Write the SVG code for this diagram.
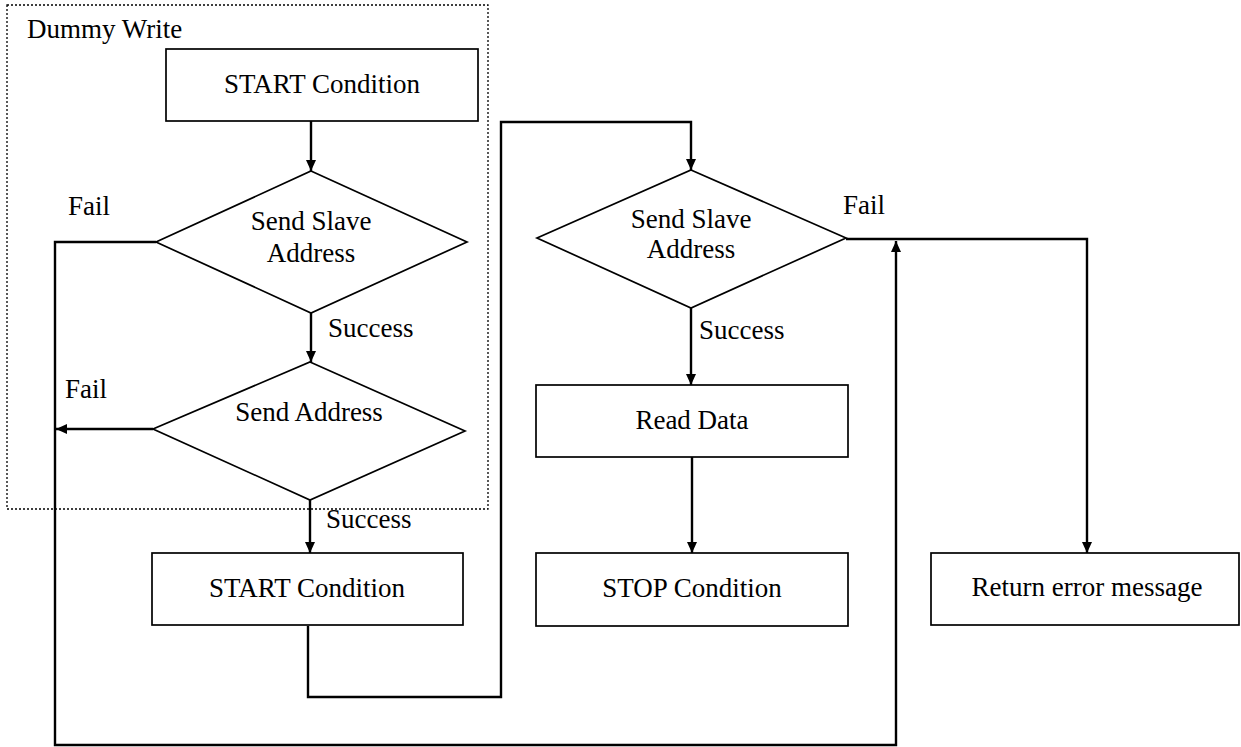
<svg xmlns="http://www.w3.org/2000/svg" width="1241" height="747" viewBox="0 0 1241 747">
<style>
.box{fill:#fff;stroke:#000;stroke-width:1.7}
.dia{fill:#fff;stroke:#000;stroke-width:1.7}
.con{fill:none;stroke:#000;stroke-width:2.4}
.grp{fill:none;stroke:#000;stroke-width:1.3;stroke-dasharray:2 2}
text{font-family:"Liberation Serif","Times New Roman",serif;font-size:27px;fill:#000}
.c{text-anchor:middle}
</style>
<defs>
<marker id="ah" markerWidth="11" markerHeight="10" refX="11" refY="5" orient="auto" markerUnits="userSpaceOnUse">
<path d="M0,0 L11,5 L0,10 Z" fill="#000"/>
</marker>
</defs>
<rect width="1241" height="747" fill="#fff"/>
<g id="dummy-write">
<rect class="grp" x="7" y="5" width="481" height="504"/>
<text x="27" y="38">Dummy Write</text>
</g>
<g id="connectors">
<line class="con" x1="311" y1="121" x2="311" y2="171" marker-end="url(#ah)"/>
<line class="con" x1="311" y1="313" x2="311" y2="362" marker-end="url(#ah)"/>
<line class="con" x1="310" y1="500" x2="310" y2="553" marker-end="url(#ah)"/>
<polyline class="con" points="156,242 55,242 55,745 896,745 896,241" marker-end="url(#ah)"/>
<line class="con" x1="153" y1="429" x2="56" y2="429" marker-end="url(#ah)"/>
<polyline class="con" points="308,626 308,697 501,697 501,122 691,122 691,170" marker-end="url(#ah)"/>
<line class="con" x1="691" y1="308" x2="691" y2="385" marker-end="url(#ah)"/>
<line class="con" x1="692" y1="457" x2="692" y2="553" marker-end="url(#ah)"/>
<polyline class="con" points="846,239 1087,239 1087,553" marker-end="url(#ah)"/>
<text x="68" y="215">Fail</text>
<text x="65" y="398">Fail</text>
<text x="843" y="214">Fail</text>
<text x="328" y="337">Success</text>
<text x="326" y="528">Success</text>
<text x="699" y="339">Success</text>
</g>
<g id="start1">
<rect class="box" x="166" y="49" width="312" height="72"/>
<text class="c" x="322" y="93">START Condition</text>
</g>
<g id="slave1">
<polygon class="dia" points="311,171 467,242 311,313 156,242"/>
<text class="c" x="311" y="230">Send Slave</text>
<text class="c" x="311" y="262">Address</text>
</g>
<g id="addr">
<polygon class="dia" points="310,362 465,431 310,500 153,429"/>
<text class="c" x="309" y="421">Send Address</text>
</g>
<g id="start2">
<rect class="box" x="152" y="553" width="311" height="72"/>
<text class="c" x="307" y="597">START Condition</text>
</g>
<g id="slave2">
<polygon class="dia" points="691,170 846,238 691,308 537,238"/>
<text class="c" x="691" y="228">Send Slave</text>
<text class="c" x="691" y="258">Address</text>
</g>
<g id="read">
<rect class="box" x="536" y="385" width="312" height="72"/>
<text class="c" x="692" y="429">Read Data</text>
</g>
<g id="stop">
<rect class="box" x="536" y="553" width="312" height="73"/>
<text class="c" x="692" y="597">STOP Condition</text>
</g>
<g id="error">
<rect class="box" x="931" y="553" width="308" height="72"/>
<text class="c" x="1087" y="596">Return error message</text>
</g>
</svg>
